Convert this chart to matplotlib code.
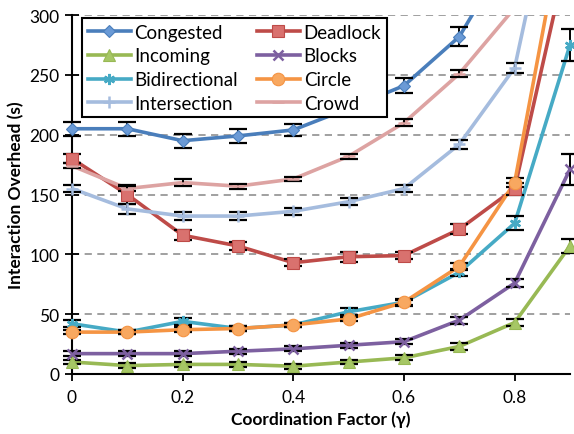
import numpy as np
import matplotlib
matplotlib.use('Agg')
import matplotlib.pyplot as plt

plt.rcParams['font.family'] = ['Lato', 'DejaVu Sans']

# coordination factor
gamma = [0, 0.1, 0.2, 0.3, 0.4, 0.5, 0.6, 0.7, 0.8, 0.9]

# overhead (s) per scenario, values above 300 run off the chart
congested = [205, 205, 195, 199, 204, 222, 241, 282, 360, 450]
congested_err = [6, 6, 6, 6, 5, 5, 6, 8, 8, 8]
deadlock = [180, 150, 116, 107, 93, 98, 99, 121, 155, 360]
deadlock_err = [4, 8, 4, 3, 3, 4, 3, 4, 5, 8]
incoming = [10, 7, 8, 8, 6.5, 10, 13.5, 23, 43, 107]
incoming_err = [2, 2, 2, 2, 2, 2, 2, 3, 3, 6]
blocks = [17, 17, 17, 19, 21, 24, 27, 45, 76, 171]
blocks_err = [2, 2, 2, 2, 2, 2, 2, 3, 3, 13]
bidirectional = [42, 35, 44, 38, 41, 52, 60, 85, 126, 275]
bidirectional_err = [3, 2, 3, 2, 2, 3, 3, 3, 6, 13]
circle = [35, 35, 37, 38, 41, 46, 60, 90, 160, 408]
circle_err = [2, 2, 2, 2, 2, 2, 2, 3, 4, 6]
intersection = [155, 138, 132, 132, 136, 144, 155, 192, 256, 470]
intersection_err = [3, 4, 3, 3, 3, 3, 3, 4, 4, 6]
crowd = [174, 155, 160, 157, 163, 182, 210, 251, 306, 420]
crowd_err = [2, 2, 3, 2, 2, 2, 3, 3, 4, 5]

names = ['Congested', 'Deadlock', 'Incoming', 'Blocks',
         'Bidirectional', 'Circle', 'Intersection', 'Crowd']
series = [congested, deadlock, incoming, blocks, bidirectional, circle, intersection, crowd]
errs = [congested_err, deadlock_err, incoming_err, blocks_err,
        bidirectional_err, circle_err, intersection_err, crowd_err]
colors = ['#4A7EBB', '#BE4B48', '#98B954', '#7D60A0',
          '#46AAC5', '#F59443', '#A5BCDE', '#DDA3A2']
faces = ['#6A9AD6', '#D9716E', '#A6C765', '#9A82BC',
         '#6CC2DA', '#F8A860', '#B6CCE8', '#E8B8B7']
markers = ['D', 's', '^', 'x', (6, 2, 0), 'o', '+', '_']
msizes = [6, 9, 8, 7, 8, 9, 8, 8]

fig = plt.figure(figsize=(5.74, 4.35), dpi=100)
ax = fig.add_axes([0.1254, 0.138, 0.8676, 0.825])

x = np.array(gamma)
handles = []
for name, y, e, c, fc, m, ms in zip(names, series, errs, colors, faces, markers, msizes):
    y = np.array(y, dtype=float)
    e = np.array(e, dtype=float)
    inside = y <= 300
    ax.errorbar(x[inside], y[inside], yerr=e[inside], fmt='none', ecolor='black',
                elinewidth=1.4, capsize=6.5, capthick=1.6, zorder=3, clip_on=False)
    ax.plot(x, y, '-', color=c, lw=2.6, zorder=2, solid_capstyle='round')
    mw = 1.8 if m in ('x', '+', '_', (6, 2, 0)) else 0.8
    ax.plot(x[inside], y[inside], ls='none', marker=m, ms=ms, mfc=fc, mec=c,
            mew=mw, zorder=4, clip_on=False)
    h, = ax.plot([], [], '-', color=c, lw=2.6, marker=m, ms=ms, mfc=fc, mec=c, mew=mw)
    handles.append(h)

ax.set_xlim(0, 0.9)
ax.set_ylim(0, 300)
ax.set_xticks([0, 0.2, 0.4, 0.6, 0.8])
ax.set_xticklabels(['0', '0.2', '0.4', '0.6', '0.8'])
ax.set_yticks(range(0, 301, 50))

for v in range(50, 301, 50):
    ax.axhline(v, color='#999999', ls=(0, (4, 3)), lw=1.3, zorder=1)

for s in ['top', 'right']:
    ax.spines[s].set_visible(False)
ax.spines['left'].set_linewidth(1.5)
ax.spines['bottom'].set_linewidth(1.5)
ax.tick_params(axis='y', direction='inout', length=10, width=1.3, labelsize=12.5, pad=4)
ax.tick_params(axis='x', direction='out', length=5, width=1.3, labelsize=12.5, pad=6)

ax.set_xlabel('Coordination Factor (γ)', fontsize=12.5, fontweight='bold', labelpad=4)
ax.set_ylabel('Interaction Overhead (s)', fontsize=12.5, fontweight='bold', labelpad=4)

order = [0, 2, 4, 6, 1, 3, 5, 7]
leg = ax.legend([handles[i] for i in order], [names[i] for i in order], ncol=2,
                loc='upper left', bbox_to_anchor=(0.02, 0.992), borderaxespad=0,
                fontsize=13.5, frameon=True, fancybox=False, edgecolor='black',
                framealpha=1, handlelength=2.3, handletextpad=0.2,
                columnspacing=1.0, labelspacing=0.36, borderpad=0.3)
leg.get_frame().set_linewidth(1.5)
leg.set_zorder(5)

fig.savefig('out.png', dpi=100)
